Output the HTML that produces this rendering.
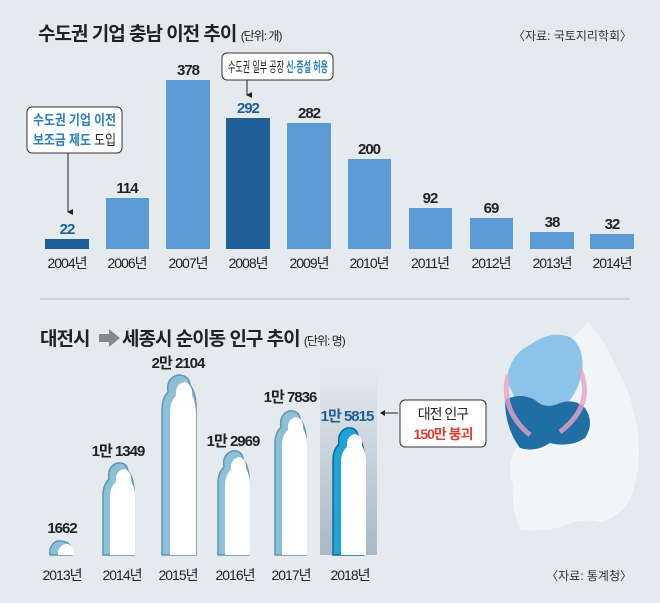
<!DOCTYPE html><html><head><meta charset="utf-8"><style>
body{margin:0;width:660px;height:603px;background:#e5eaee;overflow:hidden}
svg{display:block}
text{font-family:"Liberation Sans","Noto Sans CJK KR",sans-serif}
.n{font-size:15px;font-weight:bold;fill:#222;text-anchor:middle;letter-spacing:-1px}
.y{font-size:14px;fill:#222;text-anchor:middle;letter-spacing:-1px}
</style></head><body>
<svg width="660" height="603" viewBox="0 0 660 603">
<defs>
<linearGradient id="hl" x1="0" y1="0" x2="0" y2="1"><stop offset="0" stop-color="#e5eaee"/><stop offset="1" stop-color="#a9b8c6"/></linearGradient>
<marker id="ar" markerWidth="6" markerHeight="6" refX="3" refY="5" orient="auto"><path d="M0,0 L6,0 L3,6 z" fill="#222"/></marker>
</defs>
<text x="38" y="40" font-size="19" font-weight="bold" fill="#222" letter-spacing="-1">수도권 기업 충남 이전 추이 <tspan font-size="12" font-weight="normal">(단위: 개)</tspan></text>
<text x="632" y="40" font-size="12" fill="#333" text-anchor="end">〈자료: 국토지리학회〉</text>
<g fill="#5b9bd5">
<rect x="45" y="239" width="44" height="10" fill="#1d5f96"/>
<rect x="106" y="198" width="43" height="51"/>
<rect x="166" y="80" width="44" height="169"/>
<rect x="226" y="118" width="44" height="131" fill="#1d5f96"/>
<rect x="287" y="123" width="44" height="126"/>
<rect x="348" y="159" width="43" height="90"/>
<rect x="409" y="208" width="43" height="41"/>
<rect x="470" y="218" width="43" height="31"/>
<rect x="530" y="232" width="44" height="17"/>
<rect x="590" y="234" width="44" height="15"/>
</g>
<text class="n" x="67" y="234" style="fill:#1d5f96">22</text>
<text class="n" x="127" y="193">114</text>
<text class="n" x="188" y="75">378</text>
<text class="n" x="248" y="113" style="fill:#1d5f96">292</text>
<text class="n" x="309" y="118">282</text>
<text class="n" x="369" y="154">200</text>
<text class="n" x="430" y="203">92</text>
<text class="n" x="491" y="213">69</text>
<text class="n" x="552" y="227">38</text>
<text class="n" x="612" y="229">32</text>
<g><text class="y" x="67" y="268">2004년</text><text class="y" x="127" y="268">2006년</text><text class="y" x="188" y="268">2007년</text><text class="y" x="248" y="268">2008년</text><text class="y" x="309" y="268">2009년</text><text class="y" x="369" y="268">2010년</text><text class="y" x="430" y="268">2011년</text><text class="y" x="491" y="268">2012년</text><text class="y" x="552" y="268">2013년</text><text class="y" x="612" y="268">2014년</text></g>
<rect x="27" y="107" width="95" height="46" rx="5" fill="#fff" stroke="#333"/>
<text x="33" y="125" font-size="14" font-weight="bold" fill="#2a7fc0" textLength="83" lengthAdjust="spacingAndGlyphs">수도권 기업 이전</text>
<text x="33" y="145" font-size="14" font-weight="bold" fill="#2a7fc0" textLength="83" lengthAdjust="spacingAndGlyphs">보조금 제도 <tspan fill="#222" font-weight="normal">도입</tspan></text>
<line x1="68" y1="153" x2="68" y2="212" stroke="#222" marker-end="url(#ar)"/>
<rect x="222" y="53" width="111" height="27" rx="5" fill="#fff" stroke="#333"/>
<text x="228" y="72" font-size="14" fill="#222" textLength="100" lengthAdjust="spacingAndGlyphs">수도권 일부 공장 <tspan fill="#2a7fc0" font-weight="bold">신·증설 허용</tspan></text>
<line x1="247" y1="80" x2="247" y2="95" stroke="#222" marker-end="url(#ar)"/>
<line x1="40" y1="299" x2="630" y2="299" stroke="#c9d2da" stroke-width="2"/>
<text x="40" y="345" font-size="19" font-weight="bold" fill="#222" letter-spacing="-1">대전시</text>
<path d="M99,334 h10 v-5 l11,9 l-11,9 v-5 h-10z" fill="#888"/>
<text x="122" y="345" font-size="19" font-weight="bold" fill="#222" letter-spacing="-1">세종시 순이동 인구 추이 <tspan font-size="12" font-weight="normal">(단위: 명)</tspan></text>
<rect x="320" y="365" width="57" height="190" fill="url(#hl)"/>
<g transform="translate(50,541)"><path d="M0,14 v-6 q4,-9 10,-8 q10,0 12,9 v5z" fill="#8cc0d6" stroke="#5f97b2" stroke-width="1.5"/><path d="M8,14 v-4 q4,-8 10,-7 q6,2 6,11z" fill="#fff"/></g>
<g stroke-width="1.5">
<path d="M103,555 V495 q0,-10 6,-16 q-2,-12 8,-16 q10,-1 11,8 q6,8 6,20 V555z" fill="#8cc0d6" stroke="#5f97b2"/>
<path d="M110,555 V497 q0,-10 6,-15 q-1,-11 8,-13 q8,2 7,12 q4,6 4,18 V555z" fill="#fff"/>
<path d="M162,555 V410 q0,-12 6,-18 q-2,-14 10,-17 q11,0 12,10 q6,8 6,22 V555z" fill="#8cc0d6" stroke="#5f97b2"/>
<path d="M170,555 V412 q0,-11 6,-16 q-1,-13 9,-14 q8,3 7,14 q4,6 4,20 V555z" fill="#fff"/>
<path d="M218,555 V483 q0,-10 6,-16 q-2,-12 8,-16 q10,-1 11,8 q6,8 6,20 V555z" fill="#8cc0d6" stroke="#5f97b2"/>
<path d="M225,555 V485 q0,-10 6,-15 q-1,-11 8,-13 q8,2 7,12 q4,6 4,18 V555z" fill="#fff"/>
<path d="M275,555 V443 q0,-10 6,-16 q-2,-12 8,-16 q10,-1 11,8 q6,8 6,20 V555z" fill="#8cc0d6" stroke="#5f97b2"/>
<path d="M282,555 V445 q0,-10 6,-15 q-1,-11 8,-13 q8,2 7,12 q4,6 4,18 V555z" fill="#fff"/>
<path d="M333,555 V460 q0,-10 6,-16 q-2,-12 8,-16 q10,-1 11,8 q6,8 6,20 V555z" fill="#1ea3d6" stroke="#146a96"/>
<path d="M341,555 V462 q0,-10 6,-15 q-1,-11 8,-13 q8,2 7,12 q4,6 4,18 V555z" fill="#fff"/>
</g>
<text class="n" x="62" y="533">1662</text>
<text class="n" x="118" y="456">1만 1349</text>
<text class="n" x="178" y="368">2만 2104</text>
<text class="n" x="233" y="446">1만 2969</text>
<text class="n" x="290" y="402">1만 7836</text>
<text class="n" x="347" y="421" style="fill:#1d5f96">1만 5815</text>
<g><text class="y" x="62" y="580">2013년</text><text class="y" x="122" y="580">2014년</text><text class="y" x="178" y="580">2015년</text><text class="y" x="235" y="580">2016년</text><text class="y" x="291" y="580">2017년</text><text class="y" x="350" y="580">2018년</text></g>
<rect x="400" y="400" width="86" height="47" rx="5" fill="#fff" stroke="#333"/>
<text x="443" y="419" font-size="14" fill="#222" text-anchor="middle" letter-spacing="-1">대전 인구</text>
<text x="443" y="439" font-size="14" font-weight="bold" fill="#e03c31" text-anchor="middle" letter-spacing="-1">150만 붕괴</text>
<line x1="398" y1="413" x2="384" y2="413" stroke="#222"/><path d="M380,413 l5,-3 v6z" fill="#222"/>
<path d="M588,322 q18,20 28,45 q15,25 20,55 q8,40 -5,75 q-10,20 -30,25 q-20,-5 -40,5 q-20,5 -40,3 q-10,-20 -8,-45 q-8,-20 5,-40 q-10,-20 0,-45 q-5,-20 10,-30 q20,-15 35,-25 q15,-10 25,-23z" fill="#f2f5f8"/>
<path d="M530,345 q20,-15 40,-8 q15,10 12,35 q-5,25 -20,35 q-20,5 -35,0 q-10,-5 -15,-15 q-8,-15 -2,-25 q5,-15 20,-22z" fill="#8cc3e8"/>
<path d="M505,400 q15,-8 30,0 q10,10 25,3 q15,-5 25,5 q10,15 0,30 q-15,10 -35,5 q-15,10 -30,5 q-15,-20 -15,-48z" fill="#1f6fa4"/>
<path d="M508,375 q-8,35 22,60" fill="none" stroke="#e3a4c6" stroke-width="5" opacity=".8"/>
<path d="M580,370 q15,35 -20,62" fill="none" stroke="#e3a4c6" stroke-width="5" opacity=".8"/>
<text x="632" y="580" font-size="12" fill="#333" text-anchor="end">〈자료: 통계청〉</text>
</svg>
</body></html>
